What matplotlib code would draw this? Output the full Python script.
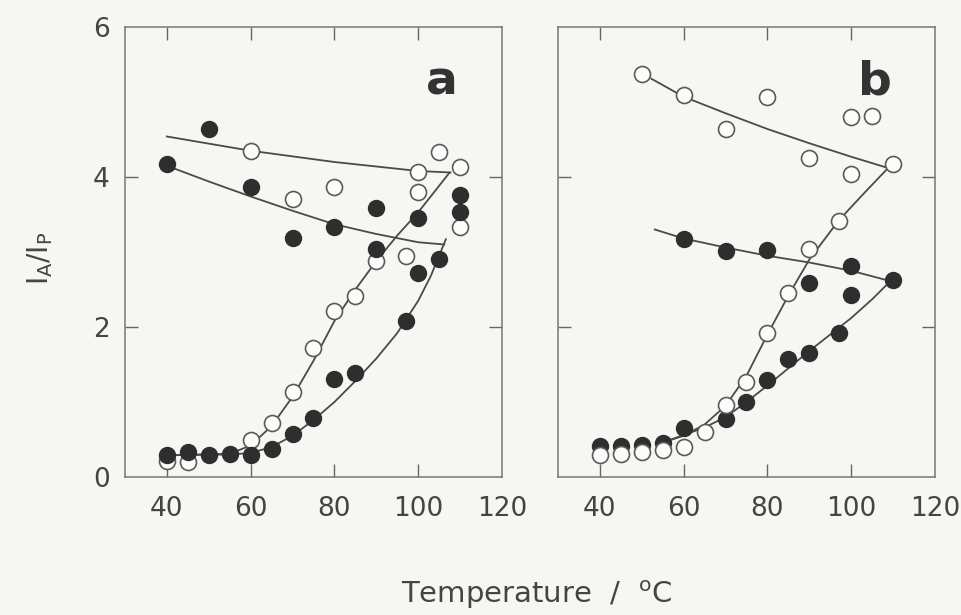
import matplotlib
matplotlib.use("Agg")
import matplotlib.pyplot as plt

# panel a - data points
a_filled_x = [40, 50, 60, 70, 80, 90, 90, 100, 100, 105, 110, 110,
              97, 85, 80, 75, 70, 65, 60, 55, 50, 45, 40]
a_filled_y = [4.17, 4.64, 3.87, 3.19, 3.33, 3.59, 3.04, 3.46, 2.72, 2.91, 3.76, 3.53,
              2.08, 1.39, 1.31, 0.79, 0.57, 0.37, 0.30, 0.31, 0.29, 0.33, 0.29]
a_open_x = [60, 70, 80, 100, 100, 105, 110, 110, 97, 90, 85, 80, 75, 70, 65, 60, 45, 40]
a_open_y = [4.35, 3.71, 3.87, 4.07, 3.80, 4.34, 4.14, 3.34, 2.95, 2.88, 2.41, 2.21,
            1.72, 1.13, 0.72, 0.50, 0.20, 0.22]

# panel a - fitted curves
a_fit1_x = [40, 60, 80, 100, 107.7]
a_fit1_y = [4.54, 4.35, 4.20, 4.08, 4.06]
a_fit2_x = [40, 50, 60, 70, 80, 90, 100, 106.2]
a_fit2_y = [4.15, 3.94, 3.74, 3.55, 3.37, 3.24, 3.13, 3.10]
a_fit3_x = [40, 55, 60, 65, 70, 75, 80, 85, 90, 95, 100, 107.5]
a_fit3_y = [0.29, 0.31, 0.42, 0.68, 1.07, 1.55, 2.08, 2.50, 2.88, 3.22, 3.53, 4.06]
a_fit4_x = [40, 55, 60, 65, 70, 75, 80, 85, 90, 95, 100, 103, 106.6]
a_fit4_y = [0.29, 0.30, 0.32, 0.40, 0.55, 0.76, 1.00, 1.28, 1.58, 1.92, 2.35, 2.68, 3.17]

# panel b - data points
b_open_x = [50, 60, 70, 80, 90, 100, 105, 100, 110, 97, 90, 85, 80, 75, 70, 65,
            60, 55, 50, 45, 40]
b_open_y = [5.38, 5.09, 4.64, 5.07, 4.26, 4.80, 4.81, 4.04, 4.17, 3.42, 3.04, 2.46,
            1.92, 1.27, 0.96, 0.60, 0.40, 0.36, 0.33, 0.31, 0.29]
b_filled_x = [60, 70, 80, 90, 100, 100, 110, 97, 90, 85, 80, 75, 70, 60, 55, 50, 45, 40]
b_filled_y = [3.18, 3.01, 3.03, 2.59, 2.81, 2.43, 2.63, 1.92, 1.66, 1.57, 1.29, 1.00,
              0.78, 0.65, 0.45, 0.43, 0.42, 0.42]

# panel b - fitted curves
b_fit1_x = [52.3, 60, 70, 80, 90, 100, 108.8]
b_fit1_y = [5.31, 5.07, 4.85, 4.64, 4.45, 4.27, 4.12]
b_fit2_x = [53.1, 60, 70, 80, 90, 100, 109.5]
b_fit2_y = [3.30, 3.18, 3.06, 2.95, 2.86, 2.75, 2.61]
b_fit3_x = [55, 60, 65, 70, 75, 80, 85, 90, 97, 103, 108.8]
b_fit3_y = [0.46, 0.55, 0.70, 0.95, 1.35, 1.90, 2.42, 2.90, 3.42, 3.78, 4.12]
b_fit4_x = [55, 60, 65, 70, 75, 80, 85, 90, 95, 100, 105, 109.5]
b_fit4_y = [0.46, 0.56, 0.66, 0.80, 1.00, 1.22, 1.45, 1.68, 1.90, 2.12, 2.37, 2.62]

bg = '#f6f6f3'
txt = '#444444'
plt.rcParams['font.family'] = ['DejaVu Sans']
plt.rcParams['mathtext.default'] = 'regular'

fig = plt.figure(figsize=(9.62, 6.15), dpi=100, facecolor=bg)
ax_a = fig.add_axes([125 / 962, 1 - 477 / 615, 377 / 962, 450 / 615], facecolor=bg)
ax_b = fig.add_axes([558 / 962, 1 - 477 / 615, 377 / 962, 450 / 615], facecolor=bg)

line_kw = dict(color='#4a4a4a', lw=1.3, zorder=2)
filled_kw = dict(ls='none', marker='o', ms=11.5, mfc='#2e2e2e', mec='#2e2e2e', mew=1.0)
open_kw = dict(ls='none', marker='o', ms=11.5, mfc='#fcfcfa', mec='#5a5a5a', mew=1.2)

# Panel a
for fx, fy in [(a_fit1_x, a_fit1_y), (a_fit2_x, a_fit2_y), (a_fit3_x, a_fit3_y), (a_fit4_x, a_fit4_y)]:
    ax_a.plot(fx, fy, **line_kw)
ax_a.plot(a_open_x, a_open_y, zorder=3, **open_kw)
ax_a.plot(a_filled_x, a_filled_y, zorder=4, **filled_kw)

# Panel b
for fx, fy in [(b_fit1_x, b_fit1_y), (b_fit2_x, b_fit2_y), (b_fit3_x, b_fit3_y), (b_fit4_x, b_fit4_y)]:
    ax_b.plot(fx, fy, **line_kw)
ax_b.plot(b_filled_x, b_filled_y, zorder=3, **filled_kw)
ax_b.plot(b_open_x, b_open_y, zorder=4, **open_kw)

for ax, lab in [(ax_a, 'a'), (ax_b, 'b')]:
    ax.set_xlim(30, 120)
    ax.set_ylim(0, 6)
    ax.set_xticks([40, 60, 80, 100, 120])
    ax.set_yticks([0, 2, 4, 6])
    ax.tick_params(direction='in', length=9.5, width=1.0, color='#666666',
                   top=True, right=True, labelsize=19, labelcolor=txt)
    ax.tick_params(axis='x', pad=14)
    ax.tick_params(axis='y', pad=11)
    # no tick marks on the frame corners, only the labels
    for t in [ax.xaxis.get_major_ticks()[-1], ax.yaxis.get_major_ticks()[0], ax.yaxis.get_major_ticks()[-1]]:
        t.tick1line.set_visible(False)
        t.tick2line.set_visible(False)
    for s in ax.spines.values():
        s.set_color('#777777')
        s.set_linewidth(1.1)
    ax.text(0.84, 0.85, lab, transform=ax.transAxes, fontsize=34, fontweight='bold',
            color='#333333', ha='center', va='baseline')

ax_b.tick_params(labelleft=False)

fig.text(40 / 962, 1 - 258 / 615, r'$I_A/I_P$', rotation=90, fontsize=20,
         color=txt, ha='center', va='center')
fig.text(537 / 962, 1 - 603 / 615, r'Temperature  /  $^{o}$C', fontsize=21,
         color=txt, ha='center', va='baseline')

fig.savefig('out.png', dpi=100, facecolor=bg)
